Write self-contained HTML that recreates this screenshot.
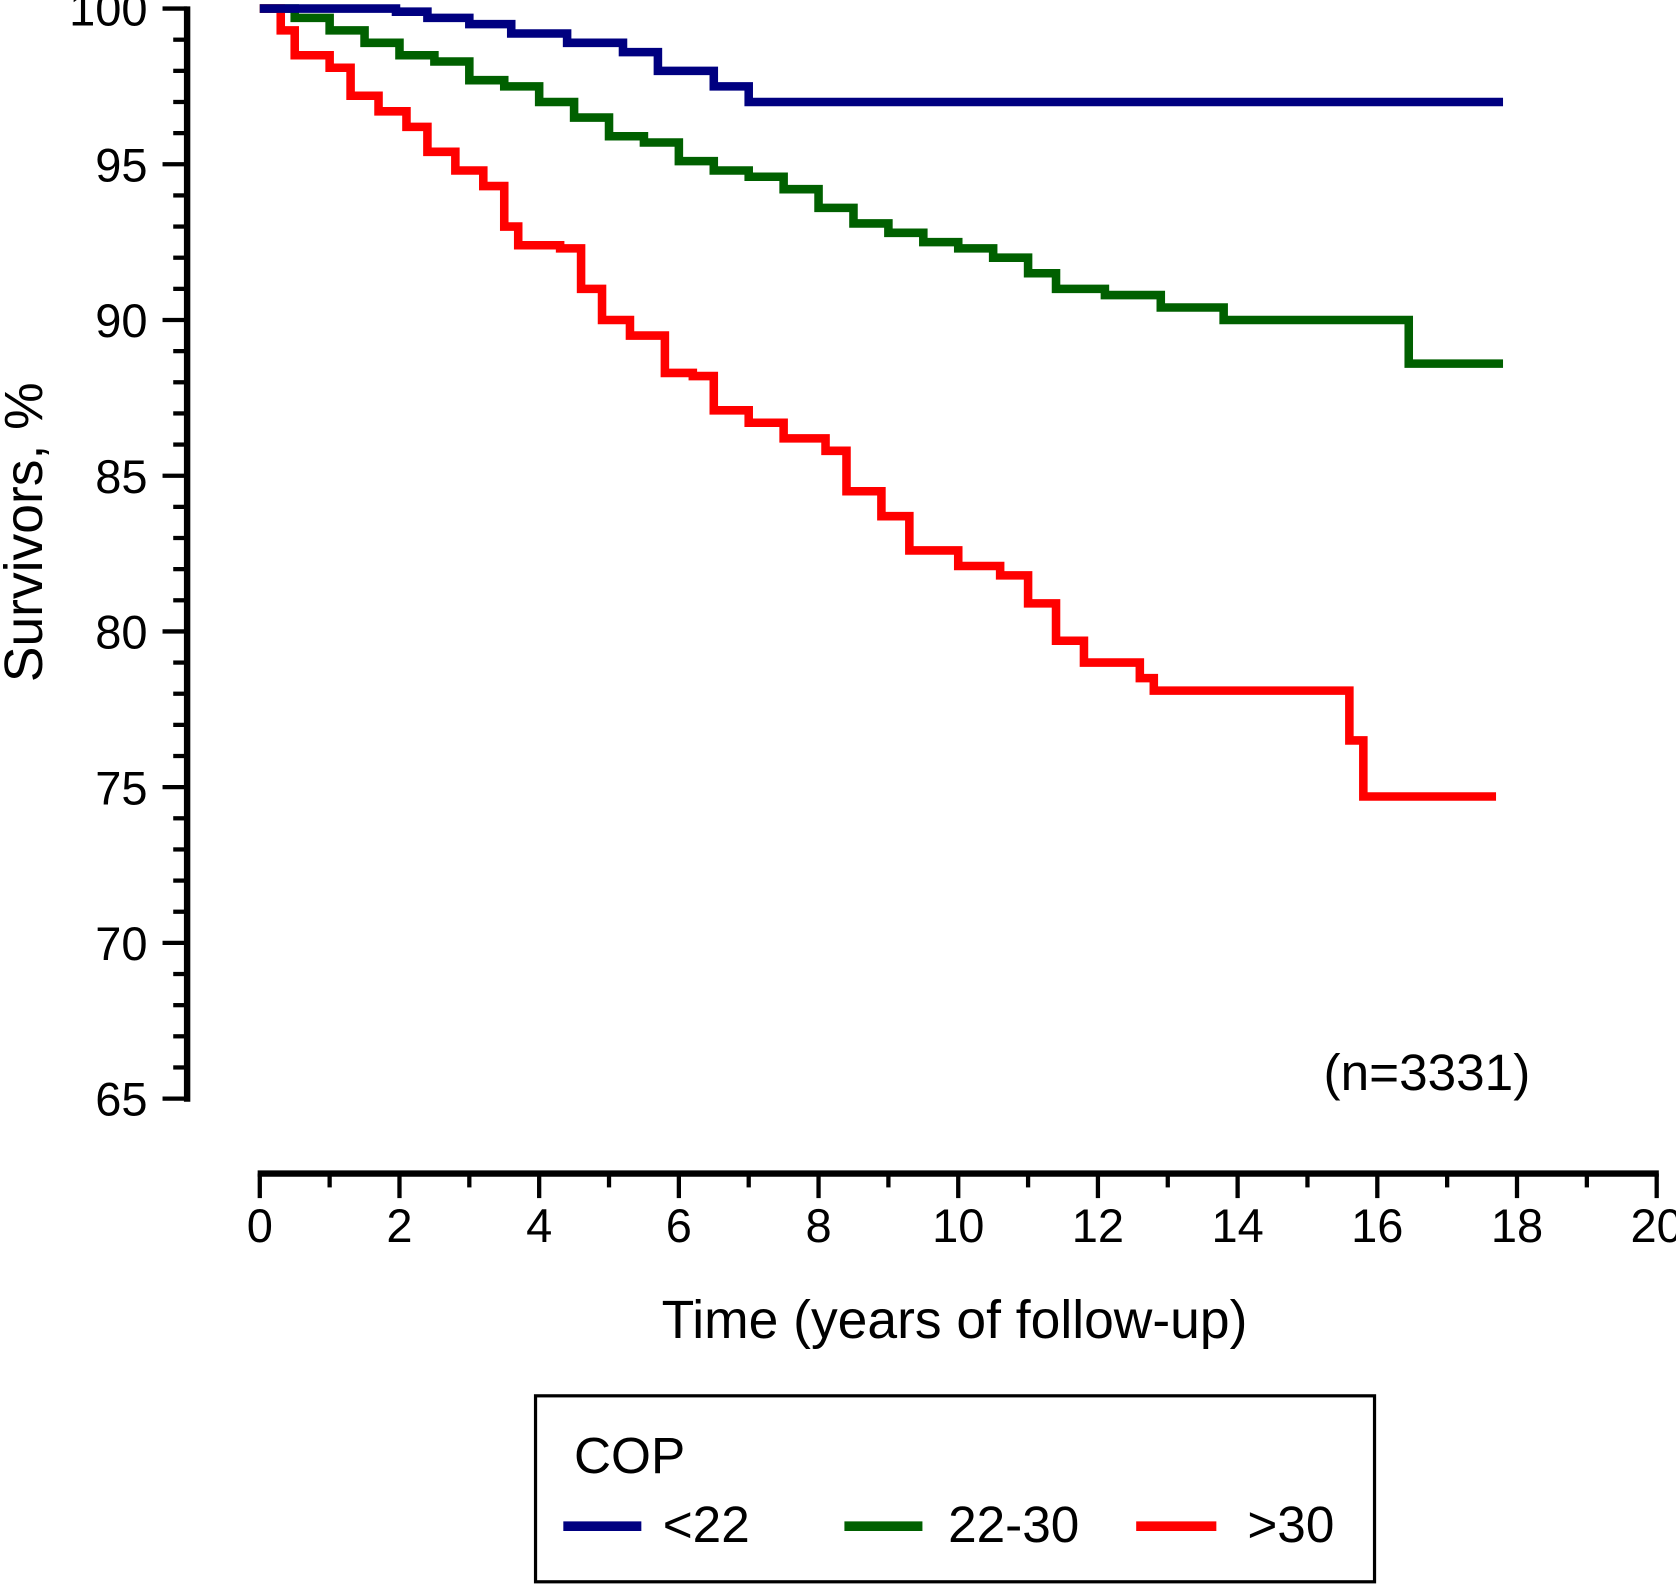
<!DOCTYPE html>
<html><head><meta charset="utf-8"><style>
html,body{margin:0;padding:0;background:#fff;}
svg{display:block;}
text{font-family:"Liberation Sans Narrow","Liberation Sans",sans-serif;fill:#000;}
</style></head><body>
<svg id="chart" width="1676" height="1585" viewBox="0 0 1568 1483" xmlns="http://www.w3.org/2000/svg">
<g id="axes"></g>
<g id="series"></g>
<text transform="translate(39,498) rotate(-90)" text-anchor="middle" font-size="50">Survivors, %</text>
<text x="893" y="1252" text-anchor="middle" font-size="50">Time (years of follow-up)</text>
<text x="1335" y="1020" text-anchor="middle" font-size="48">(n=3331)</text>
<g>
<rect x="501" y="1306" width="785" height="174" fill="none" stroke="#000" stroke-width="3"/>
<text x="537" y="1378" font-size="48">COP</text>
<line x1="527" y1="1428" x2="600" y2="1428" stroke="#000080" stroke-width="9"/>
<text x="620" y="1443" font-size="48">&lt;22</text>
<line x1="790" y1="1428" x2="863" y2="1428" stroke="#006000" stroke-width="9"/>
<text x="887" y="1443" font-size="48">22-30</text>
<line x1="1063" y1="1428" x2="1138" y2="1428" stroke="#ff0000" stroke-width="9"/>
<text x="1167" y="1443" font-size="48">&gt;30</text>
</g>
</svg>
<script>
const yTicks = [100,95,90,85,80,75,70,65];
const xTicks = [0,2,4,6,8,10,12,14,16,18,20];
const blueT = [0,1.95,2.4,3.0,3.6,4.4,5.2,5.7,6.5,7.0,17.8];
const blueV = [100,99.9,99.7,99.5,99.2,98.9,98.6,98.0,97.5,97.0,97.0];
const greenT = [0,0.5,1,1.5,2,2.5,3,3.5,4,4.5,5,5.5,6,6.5,7,7.5,8,8.5,9,9.5,10,10.5,11,11.4,12.1,12.9,13.8,16.45,17.8];
const greenV = [100,99.7,99.3,98.9,98.5,98.3,97.7,97.5,97.0,96.5,95.9,95.7,95.1,94.8,94.6,94.2,93.6,93.1,92.8,92.5,92.3,92.0,91.5,91.0,90.8,90.4,90.0,88.6,88.6];
const redT = [0,0.3,0.5,1.0,1.3,1.7,2.1,2.4,2.8,3.2,3.5,3.7,4.3,4.6,4.9,5.3,5.8,6.2,6.5,7.0,7.5,8.1,8.4,8.9,9.3,10.0,10.6,11.0,11.4,11.8,12.6,12.8,15.6,15.8,17.7];
const redV = [100,99.3,98.5,98.1,97.2,96.7,96.2,95.4,94.8,94.3,93.0,92.4,92.3,91.0,90.0,89.5,88.3,88.2,87.1,86.7,86.2,85.8,84.5,83.7,82.6,82.1,81.8,80.9,79.7,79.0,78.5,78.1,76.5,74.7,74.7];

const NS='http://www.w3.org/2000/svg';
function X(t){return 243+65.35*t;}
function Y(v){return 8+(100-v)*29.14;}
const axes=document.getElementById('axes');
function mk(tag,attrs,parent){const e=document.createElementNS(NS,tag);for(const k in attrs)e.setAttribute(k,attrs[k]);parent.appendChild(e);return e;}

const yl=mk('line',{x1:175,y1:Y(100)-2,x2:175,y2:Y(65)+3,stroke:'#000','stroke-width':6},axes);


for(let v=65;v<=100;v++){
  const major=(v%5===0);
  const t=mk('line',{x1:major?152:162,y1:Y(v),x2:175,y2:Y(v),stroke:'#000','stroke-width':4},axes);
  
  
}
yTicks.forEach(v=>{
  const t=mk('text',{x:138,y:Y(v)+16,'text-anchor':'end','font-size':44},axes);
  t.textContent=v;
  
  
});
const xl=mk('line',{x1:X(0)-2,y1:1098,x2:X(20)+2,y2:1098,stroke:'#000','stroke-width':6},axes);


for(let t=0;t<=20;t++){
  const major=(t%2===0);
  const k=mk('line',{x1:X(t),y1:1098,x2:X(t),y2:major?1121:1111,stroke:'#000','stroke-width':4},axes);
  
  
}
xTicks.forEach(t=>{
  const e=mk('text',{x:X(t),y:1162,'text-anchor':'middle','font-size':44},axes);
  e.textContent=t;
  
  
});
function stepPath(T,V){
  let d='M'+X(T[0])+','+Y(V[0]);
  for(let i=1;i<T.length;i++){d+=' H'+X(T[i])+' V'+Y(V[i]);}
  return d;
}
const series=document.getElementById('series');
const g=mk('path',{d:stepPath(greenT,greenV),fill:'none',stroke:'#006000','stroke-width':8},series);


const r=mk('path',{d:stepPath(redT,redV),fill:'none',stroke:'#ff0000','stroke-width':8},series);


const b=mk('path',{d:stepPath(blueT,blueV),fill:'none',stroke:'#000080','stroke-width':8},series);


</script>
</body></html>
